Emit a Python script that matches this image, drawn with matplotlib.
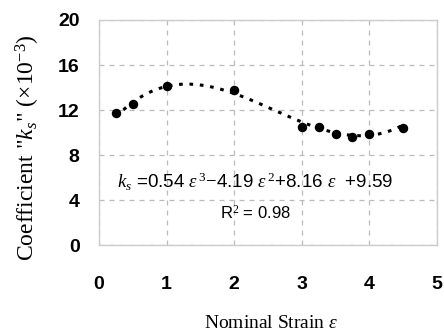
import numpy as np
import matplotlib
matplotlib.use("Agg")
import matplotlib.pyplot as plt

plt.rcParams['mathtext.fontset'] = 'custom'
plt.rcParams['mathtext.rm'] = 'Liberation Serif'
plt.rcParams['mathtext.it'] = 'Liberation Serif:italic'

strain = [0.25, 0.5, 1.0, 2.0, 3.0, 3.25, 3.5, 3.75, 4.0, 4.5]
ks = [11.7, 12.5, 14.1, 13.8, 10.5, 10.5, 9.9, 9.6, 9.9, 10.4]
fit_coef = [0.54, -4.19, 8.16, 9.59]
xticks = [0, 1, 2, 3, 4, 5]
yticks = [0, 4, 8, 12, 16, 20]

fig = plt.figure(figsize=(4.44, 3.33), dpi=100)
ax = fig.add_axes([0.223, 0.264, 0.761, 0.676])

xs = np.linspace(min(strain), max(strain), 200)
ax.plot(xs, np.polyval(fit_coef, xs), color='black', lw=2.2,
        linestyle=(0, (1.2, 2.2)), zorder=3)
ax.plot(strain, ks, 'o', color='black', ms=5.8, zorder=4)

ax.set_xlim(0, 5)
ax.set_ylim(0, 20)
ax.set_xticks(xticks)
ax.set_yticks(yticks)
ax.grid(True, color='#bbbbbb', linestyle=(0, (4, 4)), lw=0.9)
for s in ax.spines.values():
    s.set_color('#cccccc')
    s.set_linewidth(1.0)
ax.tick_params(length=0, labelsize=14)
ax.tick_params(axis='x', pad=22)
ax.tick_params(axis='y', pad=14)
for lab in ax.get_xticklabels() + ax.get_yticklabels():
    lab.set_fontfamily('Liberation Sans')
    lab.set_fontweight('bold')

ax.text(2.31, 5.6, r'$k_s$ =0.54 $\varepsilon^{\,3}$$-$4.19 $\varepsilon^{\,2}$+8.16 $\varepsilon$  +9.59',
        ha='center', va='center', fontsize=13.5, family='Liberation Sans')
ax.text(2.31, 2.9, r'R$^2$ = 0.98', ha='center', va='center', fontsize=12,
        family='Liberation Sans')

fig.text(0.062, 0.556, r'Coefficient "$k_s$" ($\times$10$^{-3}$)', rotation=90,
         ha='center', va='center', fontsize=17, family='Liberation Serif')
fig.text(0.61, 0.03, r'Nominal Strain $\varepsilon$', ha='center', va='center',
         fontsize=14, family='Liberation Serif')

fig.savefig('out.png', dpi=100)
